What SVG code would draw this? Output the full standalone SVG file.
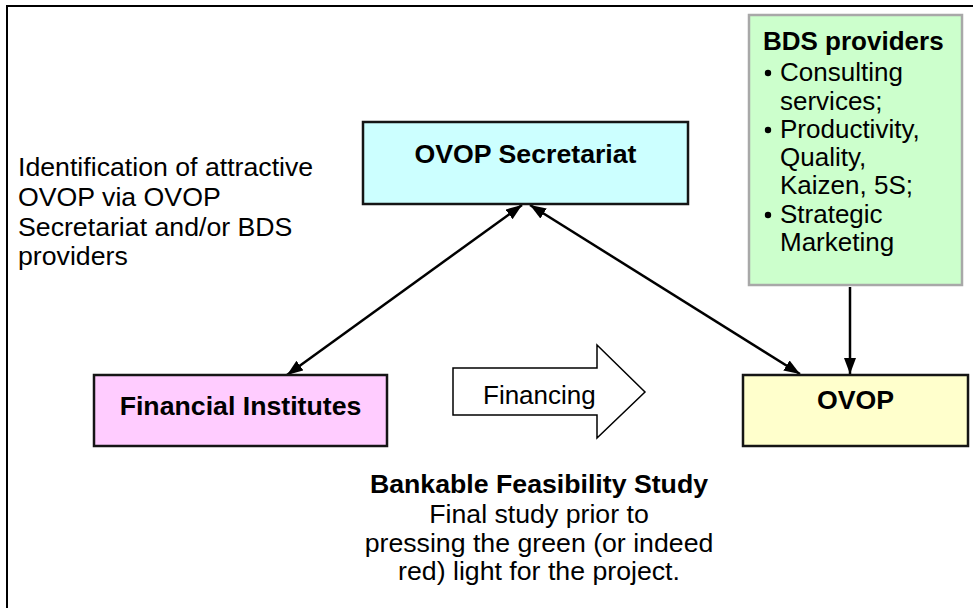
<svg xmlns="http://www.w3.org/2000/svg" width="973" height="608" viewBox="0 0 973 608">
  <style>
    text { font-family: "Liberation Sans", Arial, sans-serif; font-size: 26.7px; fill: #000; }
    .b { font-weight: bold; }
    .s { font-size: 26px; }
    .box { stroke: #151515; stroke-width: 2.5; }
    .conn { stroke: #000; stroke-width: 2.5; fill: none; }
  </style>
  <defs>
    <marker id="ah" markerUnits="userSpaceOnUse" markerWidth="16" markerHeight="12" viewBox="0 0 16 12" refX="16" refY="6" orient="auto-start-reverse">
      <path d="M0,0 L16,6 L0,12 z" fill="#000"/>
    </marker>
  </defs>
  <rect x="0" y="0" width="973" height="608" fill="#fff"/>
  <rect id="frame" x="7" y="6" width="1000" height="700" fill="none" stroke="#000" stroke-width="2"/>

  <g id="connectors">
    <line class="conn" x1="522" y1="205" x2="287" y2="375" marker-start="url(#ah)" marker-end="url(#ah)"/>
    <line class="conn" x1="530" y1="205" x2="800" y2="374" marker-start="url(#ah)" marker-end="url(#ah)"/>
    <line class="conn" x1="850" y1="287" x2="850" y2="374" marker-end="url(#ah)"/>
  </g>

  <g id="secretariat">
    <rect class="box" x="363" y="122" width="325" height="82" fill="#ccffff"/>
    <text class="b" x="525.5" y="163" text-anchor="middle">OVOP Secretariat</text>
  </g>

  <g id="financial-institutes">
    <rect class="box" x="94" y="375" width="293" height="71" fill="#ffccff"/>
    <text class="b" x="240.5" y="415" text-anchor="middle">Financial Institutes</text>
  </g>

  <g id="ovop">
    <rect class="box" x="743" y="375" width="225" height="71" fill="#ffffcc"/>
    <text class="b" x="855.5" y="409" text-anchor="middle">OVOP</text>
  </g>

  <g id="bds-providers">
    <rect x="749" y="15" width="213" height="270" fill="#ccffcc" stroke="#a8a8a8" stroke-width="2.5"/>
    <text class="b s" x="763" y="50">BDS providers</text>
    <circle cx="768" cy="73" r="3.2" fill="#000"/>
    <text class="s" x="780" y="81">Consulting</text>
    <text class="s" x="780" y="110">services;</text>
    <circle cx="768" cy="130" r="3.2" fill="#000"/>
    <text class="s" x="780" y="138">Productivity,</text>
    <text class="s" x="780" y="166">Quality,</text>
    <text class="s" x="780" y="194">Kaizen, 5S;</text>
    <circle cx="768" cy="215" r="3.2" fill="#000"/>
    <text class="s" x="780" y="223">Strategic</text>
    <text class="s" x="780" y="251">Marketing</text>
  </g>

  <g id="financing">
    <path d="M453,368 L597,368 L597,345 L645,392 L597,438 L597,415 L453,415 z" fill="#fff" stroke="#000" stroke-width="1.5"/>
    <text class="s" x="483" y="404">Financing</text>
  </g>

  <g id="identification-note">
    <text x="18" y="176">Identification of attractive</text>
    <text x="18" y="206">OVOP via OVOP</text>
    <text x="18" y="236">Secretariat and/or BDS</text>
    <text x="18" y="265">providers</text>
  </g>

  <g id="feasibility-note">
    <text class="b" x="539" y="493" text-anchor="middle">Bankable Feasibility Study</text>
    <text x="539" y="523" text-anchor="middle">Final study prior to</text>
    <text x="539" y="552" text-anchor="middle">pressing the green (or indeed</text>
    <text x="539" y="580" text-anchor="middle">red) light for the project.</text>
  </g>
</svg>
